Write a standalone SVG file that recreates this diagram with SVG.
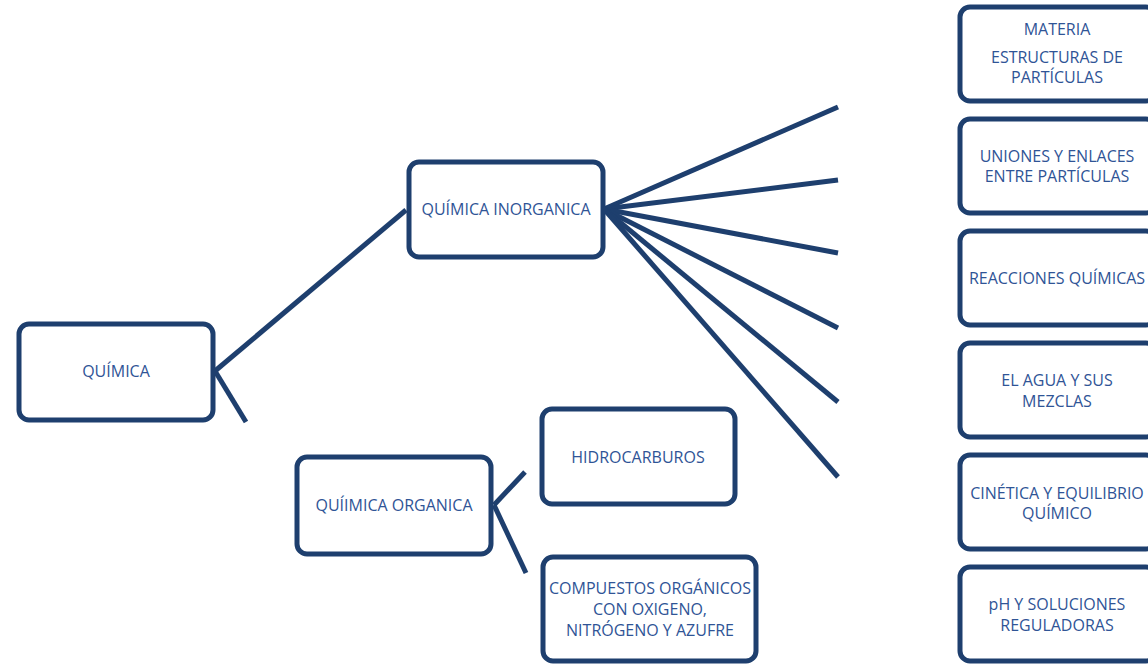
<svg xmlns="http://www.w3.org/2000/svg" width="1148" height="665" viewBox="0 0 1148 665">
<style>
.box{fill:#fff;stroke:#1E3F6E;stroke-width:5}
.t{font-family:"Open Sans","Liberation Sans",sans-serif;font-size:16px;fill:#2F5496;text-anchor:middle}
.c{stroke:#1E3F6E;stroke-width:5;fill:none;stroke-linecap:butt}
</style>
<rect width="1148" height="665" fill="#fff"/>
<g id="connectors">
<line class="c" x1="215" y1="371" x2="406" y2="210"/>
<line class="c" x1="215" y1="371" x2="246" y2="422"/>
<line class="c" x1="604" y1="209" x2="838" y2="107"/>
<line class="c" x1="604" y1="209" x2="838" y2="180"/>
<line class="c" x1="604" y1="209" x2="838" y2="253"/>
<line class="c" x1="604" y1="209" x2="838" y2="328"/>
<line class="c" x1="604" y1="209" x2="838" y2="402"/>
<line class="c" x1="604" y1="209" x2="838" y2="477"/>
<line class="c" x1="494" y1="505" x2="525" y2="472"/>
<line class="c" x1="494" y1="505" x2="526" y2="573"/>
</g>
<g id="quimica"><rect class="box" x="19" y="324" width="194" height="96" rx="10"/><text class="t" x="116" y="377">QUÍMICA</text></g>
<g id="inorganica"><rect class="box" x="409" y="162" width="194" height="95" rx="10"/><text class="t" x="506" y="215">QUÍMICA INORGANICA</text></g>
<g id="organica"><rect class="box" x="297" y="457" width="194" height="97" rx="10"/><text class="t" x="394" y="511">QUÍIMICA ORGANICA</text></g>
<g id="hidrocarburos"><rect class="box" x="542" y="409" width="193" height="95" rx="10"/><text class="t" x="638" y="463">HIDROCARBUROS</text></g>
<g id="compuestos"><rect class="box" x="543" y="557" width="213" height="104" rx="10"/><text class="t" x="650" y="594">COMPUESTOS ORGÁNICOS</text><text class="t" x="650" y="615">CON OXIGENO,</text><text class="t" x="650" y="636">NITRÓGENO Y AZUFRE</text></g>
<g id="materia"><rect class="box" x="960" y="7" width="196" height="94" rx="10"/><text class="t" x="1057" y="35">MATERIA</text><text class="t" x="1057" y="63">ESTRUCTURAS DE</text><text class="t" x="1057" y="83">PARTÍCULAS</text></g>
<g id="uniones"><rect class="box" x="960" y="119" width="196" height="94" rx="10"/><text class="t" x="1057" y="162">UNIONES Y ENLACES</text><text class="t" x="1057" y="182">ENTRE PARTÍCULAS</text></g>
<g id="reacciones"><rect class="box" x="960" y="231" width="196" height="94" rx="10"/><text class="t" x="1057" y="284">REACCIONES QUÍMICAS</text></g>
<g id="agua"><rect class="box" x="960" y="343" width="196" height="94" rx="10"/><text class="t" x="1057" y="386">EL AGUA Y SUS</text><text class="t" x="1057" y="407">MEZCLAS</text></g>
<g id="cinetica"><rect class="box" x="960" y="455" width="196" height="94" rx="10"/><text class="t" x="1057" y="499">CINÉTICA Y EQUILIBRIO</text><text class="t" x="1057" y="519">QUÍMICO</text></g>
<g id="ph"><rect class="box" x="960" y="567" width="196" height="94" rx="10"/><text class="t" x="1057" y="610">pH Y SOLUCIONES</text><text class="t" x="1057" y="631">REGULADORAS</text></g>
</svg>
